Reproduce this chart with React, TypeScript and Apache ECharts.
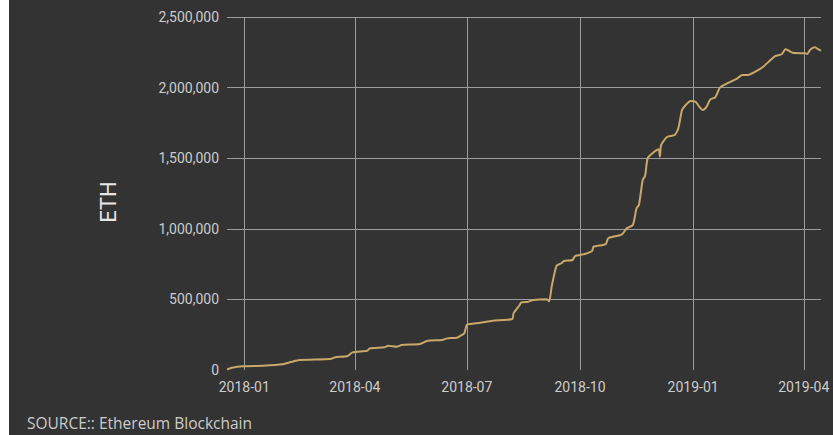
import React, { useEffect, useRef } from "react";
import * as echarts from "echarts";

const dates: string[] = [
  "2017-12-18", "2017-12-22", "2017-12-31", "2018-01-16", "2018-02-01", "2018-02-09", "2018-02-15",
  "2018-03-12", "2018-03-16", "2018-03-26", "2018-03-30", "2018-04-11", "2018-04-13", "2018-04-25",
  "2018-04-28", "2018-05-05", "2018-05-09", "2018-05-24", "2018-05-30", "2018-06-11", "2018-06-15",
  "2018-06-23", "2018-06-27", "2018-06-29", "2018-07-01", "2018-07-04", "2018-07-12", "2018-07-22",
  "2018-08-07", "2018-08-08", "2018-08-13", "2018-08-14", "2018-08-20", "2018-08-24", "2018-09-04",
  "2018-09-06", "2018-09-08", "2018-09-12", "2018-09-16", "2018-09-18", "2018-09-25", "2018-09-27",
  "2018-10-05", "2018-10-11", "2018-10-12", "2018-10-22", "2018-10-24", "2018-11-03", "2018-11-05",
  "2018-11-08", "2018-11-13", "2018-11-16", "2018-11-18", "2018-11-21", "2018-11-23", "2018-11-25",
  "2018-11-29", "2018-12-04", "2018-12-05", "2018-12-06", "2018-12-11", "2018-12-17", "2018-12-20",
  "2018-12-23", "2018-12-26", "2018-12-30", "2019-01-03", "2019-01-06", "2019-01-09", "2019-01-12",
  "2019-01-15", "2019-01-19", "2019-01-23", "2019-01-30", "2019-02-06", "2019-02-10", "2019-02-14",
  "2019-02-22", "2019-02-27", "2019-03-05", "2019-03-09", "2019-03-14", "2019-03-17", "2019-03-19",
  "2019-03-23", "2019-04-02", "2019-04-04", "2019-04-06", "2019-04-10", "2019-04-13", "2019-04-15",
];

const ethValues: number[] = [
  3000, 16000, 26000, 30000, 40000, 59000, 71000,
  78000, 90000, 99000, 125000, 137000, 153000, 161000,
  172000, 165000, 177000, 184000, 207000, 212000, 224000,
  229000, 248000, 260000, 320000, 326000, 335000, 349000,
  361000, 401000, 460000, 477000, 484000, 496000, 501000,
  487000, 590000, 739000, 756000, 772000, 779000, 807000,
  822000, 845000, 873000, 892000, 933000, 956000, 968000,
  1003000, 1027000, 1145000, 1170000, 1346000, 1375000, 1499000,
  1535000, 1563000, 1511000, 1593000, 1652000, 1664000, 1712000,
  1841000, 1877000, 1905000, 1900000, 1865000, 1841000, 1865000,
  1917000, 1931000, 2002000, 2035000, 2066000, 2089000, 2089000,
  2120000, 2148000, 2195000, 2224000, 2236000, 2271000, 2266000,
  2247000, 2243000, 2238000, 2266000, 2285000, 2271000, 2261000,
];

const xTickLabels: string[] = ["2018-01", "2018-04", "2018-07", "2018-10", "2019-01", "2019-04"];
const yTicks: number[] = [0, 500000, 1000000, 1500000, 2000000, 2500000];

const yAxisTitle = "ETH";
const sourceText = "SOURCE:: Ethereum Blockchain";

function toTime(s: string): number {
  const p = s.split("-").map(Number);
  return new Date(p[0], p[1] - 1, p[2] || 1).getTime();
}

export default function App() {
  const ref = useRef<HTMLDivElement>(null);
  useEffect(() => {
    if (!ref.current) return;
    const chart = echarts.init(ref.current, null, { renderer: "svg" });
    const data = dates.map((d, i) => [toTime(d), ethValues[i]]);
    const tickTimes = xTickLabels.map((t) => toTime(t));
    const grid = "#9c9c9c";
    chart.setOption({
      animation: false,
      backgroundColor: "#333333",
      grid: { left: 218, right: 12, top: 17, bottom: 65 },
      xAxis: {
        type: "value",
        min: toTime(dates[0]),
        max: toTime(dates[dates.length - 1]),
        axisLine: { show: false },
        axisTick: { show: false, customValues: tickTimes },
        axisLabel: {
          customValues: tickTimes,
          color: "#cccccc",
          fontFamily: "Roboto",
          fontSize: 14,
          margin: 10,
          formatter: (v: number) => {
            const d = new Date(v);
            return d.getFullYear() + "-" + String(d.getMonth() + 1).padStart(2, "0");
          },
        },
        splitLine: { show: true, lineStyle: { color: grid, width: 1 } },
      },
      yAxis: {
        type: "value",
        min: yTicks[0],
        max: yTicks[yTicks.length - 1],
        interval: yTicks[1] - yTicks[0],
        axisLine: { show: false },
        axisTick: { show: false },
        axisLabel: {
          color: "#cccccc",
          fontFamily: "Roboto",
          fontSize: 14,
          margin: 8,
          formatter: (v: number) => v.toLocaleString("en-US"),
        },
        splitLine: {
          show: true,
          lineStyle: { color: ["rgba(0,0,0,0)", grid, grid, grid, grid, grid], width: 1 },
        },
      },
      graphic: [
        {
          type: "text",
          x: 99,
          y: 202,
          rotation: Math.PI / 2,
          style: {
            text: yAxisTitle,
            fill: "#e6e6e6",
            font: "22px Roboto",
            textAlign: "center",
            textVerticalAlign: "middle",
          },
        },
        {
          type: "text",
          x: 18,
          y: 423,
          style: {
            text: sourceText,
            fill: "#cccccc",
            font: "15.5px 'Open Sans'",
            textAlign: "left",
            textVerticalAlign: "middle",
          },
        },
      ],
      series: [
        {
          type: "line",
          data,
          showSymbol: false,
          smooth: 0.2,
          lineStyle: { color: "#c9a86a", width: 2 },
        },
      ],
    });
    return () => chart.dispose();
  }, []);
  return (
    <div
      ref={ref}
      style={{ position: "fixed", left: 9, top: 0, width: 824, height: 435 }}
    />
  );
}
